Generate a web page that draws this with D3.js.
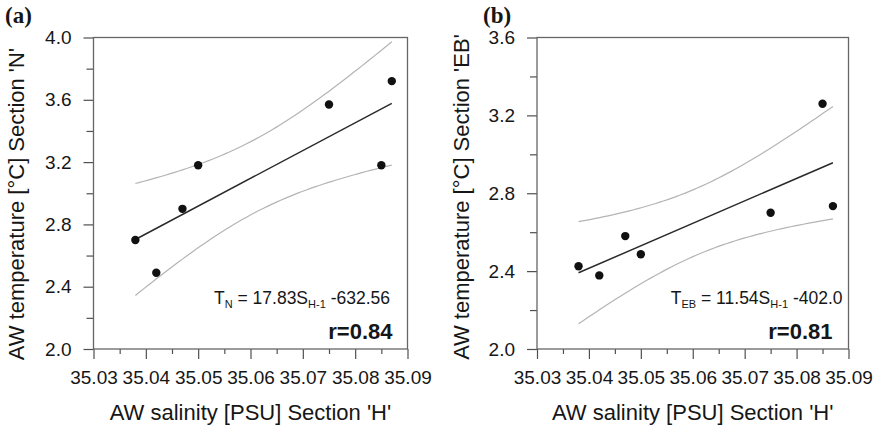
<!DOCTYPE html>
<html>
<head>
<meta charset="utf-8">
<script src="https://cdn.jsdelivr.net/npm/d3@7"></script>
<style>
  body { margin: 0; background: #fff; }
  svg { display: block; }
  text { font-family: "Liberation Sans", Arial, Helvetica, sans-serif; fill: #161616; }
</style>
</head>
<body>
<svg id="chart" width="877" height="427"></svg>
<script>
// Atlantic Water salinity at section H against temperature downstream
const salinity = [35.038, 35.042, 35.047, 35.050, 35.075, 35.085, 35.087];
const tempN    = [2.70, 2.49, 2.90, 3.18, 3.57, 3.18, 3.72];
const tempEB   = [2.425, 2.378, 2.580, 2.487, 2.700, 3.260, 2.734];

const salinityTicks = [35.03, 35.04, 35.05, 35.06, 35.07, 35.08, 35.09];
const tempTicksN    = [2.0, 2.4, 2.8, 3.2, 3.6, 4.0];
const tempTicksEB   = [2.0, 2.4, 2.8, 3.2, 3.6];

// Regression slopes and intercept text as printed in each panel
const slopes       = [17.83, 11.54];
const slopeLabels  = ["17.83", "11.54"];
const intercepts   = ["-632.56", "-402.0"];
const correlations = ["0.84", "0.81"];
const panelTags    = ["(a)", "(b)"];
const sectionNames = ["N", "EB"];

// two-sided t quantile used for the confidence band of the fit
const tCrit = 2.365;

const svg = d3.select("#chart");

const panels = [
  { temps: tempN, yTicks: tempTicksN, x0: 93.5, x1: 407.5, y0: 349, y1: 37.5,
    tagX: 5, ytX: 24, ytY: 204, eqX: 390, eqY: 304, rX: 392.5, rY: 339 },
  { temps: tempEB, yTicks: tempTicksEB, x0: 537, x1: 848.5, y0: 349, y1: 37.5,
    tagX: 483, ytX: 469, ytY: 197, eqX: 842.5, eqY: 304, rX: 832.5, rY: 339 }
];

const mids = arr => d3.pairs(arr).map(([a, b]) => (a + b) / 2);

panels.forEach((p, i) => {
  const g = svg.append("g");
  const x = d3.scaleLinear()
    .domain([salinityTicks[0], salinityTicks[salinityTicks.length - 1]])
    .range([p.x0, p.x1]);
  const y = d3.scaleLinear()
    .domain([p.yTicks[0], p.yTicks[p.yTicks.length - 1]])
    .range([p.y0, p.y1]);

  // minor ticks
  g.append("g").attr("transform", `translate(0,${p.y0})`)
    .call(d3.axisBottom(x).tickValues(mids(salinityTicks)).tickSize(5).tickFormat(""))
    .call(a => a.select(".domain").remove());
  g.append("g").attr("transform", `translate(${p.x0},0)`)
    .call(d3.axisLeft(y).tickValues(mids(p.yTicks)).tickSize(7).tickFormat(""))
    .call(a => a.select(".domain").remove());

  // major ticks with labels
  const xa = g.append("g").attr("transform", `translate(0,${p.y0})`)
    .call(d3.axisBottom(x).tickValues(salinityTicks).tickSize(10).tickPadding(12)
      .tickFormat(d3.format(".2f")));
  xa.select(".domain").remove();
  const ya = g.append("g").attr("transform", `translate(${p.x0},0)`)
    .call(d3.axisLeft(y).tickValues(p.yTicks).tickSize(10).tickPadding(12)
      .tickFormat(d3.format(".1f")));
  ya.select(".domain").remove();
  g.selectAll(".tick line").attr("stroke", "#505050").attr("stroke-width", 1.2);
  g.selectAll(".tick text").style("font-size", "19px").attr("fill", "#161616")
    .style("font-family", "'Liberation Sans', Arial, sans-serif");

  // frame
  g.append("rect")
    .attr("x", p.x0).attr("y", p.y1)
    .attr("width", p.x1 - p.x0).attr("height", p.y0 - p.y1)
    .attr("fill", "none").attr("stroke", "#666").attr("stroke-width", 1.3);

  // fit through the centroid with the printed slope, and its confidence band
  const n = salinity.length;
  const mx = d3.mean(salinity), my = d3.mean(p.temps);
  const b = slopes[i];
  const fit = s => my + b * (s - mx);
  const sxx = d3.sum(salinity, s => (s - mx) ** 2);
  const sse = d3.sum(salinity, (s, k) => (p.temps[k] - fit(s)) ** 2);
  const se = Math.sqrt(sse / (n - 2));
  const half = s => tCrit * se * Math.sqrt(1 / n + (s - mx) ** 2 / sxx);
  const [smin, smax] = d3.extent(salinity);
  const grid = d3.range(0, 61).map(k => smin + (smax - smin) * k / 60);

  const line = d3.line().x(d => x(d[0])).y(d => y(d[1])).curve(d3.curveLinear);
  g.append("path").datum(grid.map(s => [s, fit(s) + half(s)]))
    .attr("d", line).attr("fill", "none").attr("stroke", "#b4b4b4").attr("stroke-width", 1.2);
  g.append("path").datum(grid.map(s => [s, fit(s) - half(s)]))
    .attr("d", line).attr("fill", "none").attr("stroke", "#b4b4b4").attr("stroke-width", 1.2);
  g.append("path").datum([[smin, fit(smin)], [smax, fit(smax)]])
    .attr("d", line).attr("fill", "none").attr("stroke", "#2a2a2a").attr("stroke-width", 1.5);

  // observations
  g.selectAll("circle.obs").data(salinity.map((s, k) => [s, p.temps[k]]))
    .join("circle").attr("class", "obs")
    .attr("cx", d => x(d[0])).attr("cy", d => y(d[1]))
    .attr("r", 4.2).attr("fill", "#111");

  // regression equation
  const eq = g.append("text").attr("x", p.eqX).attr("y", p.eqY)
    .attr("text-anchor", "end").style("font-size", "17.5px");
  eq.append("tspan").text("T");
  eq.append("tspan").attr("dy", 4).style("font-size", "11px").text(sectionNames[i]);
  eq.append("tspan").attr("dy", -4).text(" = " + slopeLabels[i] + "S");
  eq.append("tspan").attr("dy", 4).style("font-size", "11px").text("H-1");
  eq.append("tspan").attr("dy", -4).text(" " + intercepts[i]);

  g.append("text").attr("x", p.rX).attr("y", p.rY)
    .attr("text-anchor", "end").style("font-size", "22px").style("font-weight", "bold")
    .text("r=" + correlations[i]);

  // axis titles
  g.append("text")
    .attr("x", (p.x0 + p.x1) / 2).attr("y", 420)
    .attr("text-anchor", "middle").style("font-size", "22px")
    .text("AW salinity [PSU] Section 'H'");
  g.append("text")
    .attr("transform", `translate(${p.ytX},${p.ytY}) rotate(-90)`)
    .attr("text-anchor", "middle").style("font-size", "22px")
    .text(`AW temperature [°C] Section '${sectionNames[i]}'`);

  // panel tag
  g.append("text").attr("x", p.tagX).attr("y", 23)
    .style("font-family", "'Liberation Serif', 'Times New Roman', serif")
    .style("font-weight", "bold").style("font-size", "23px")
    .text(panelTags[i]);
});
</script>
</body>
</html>
